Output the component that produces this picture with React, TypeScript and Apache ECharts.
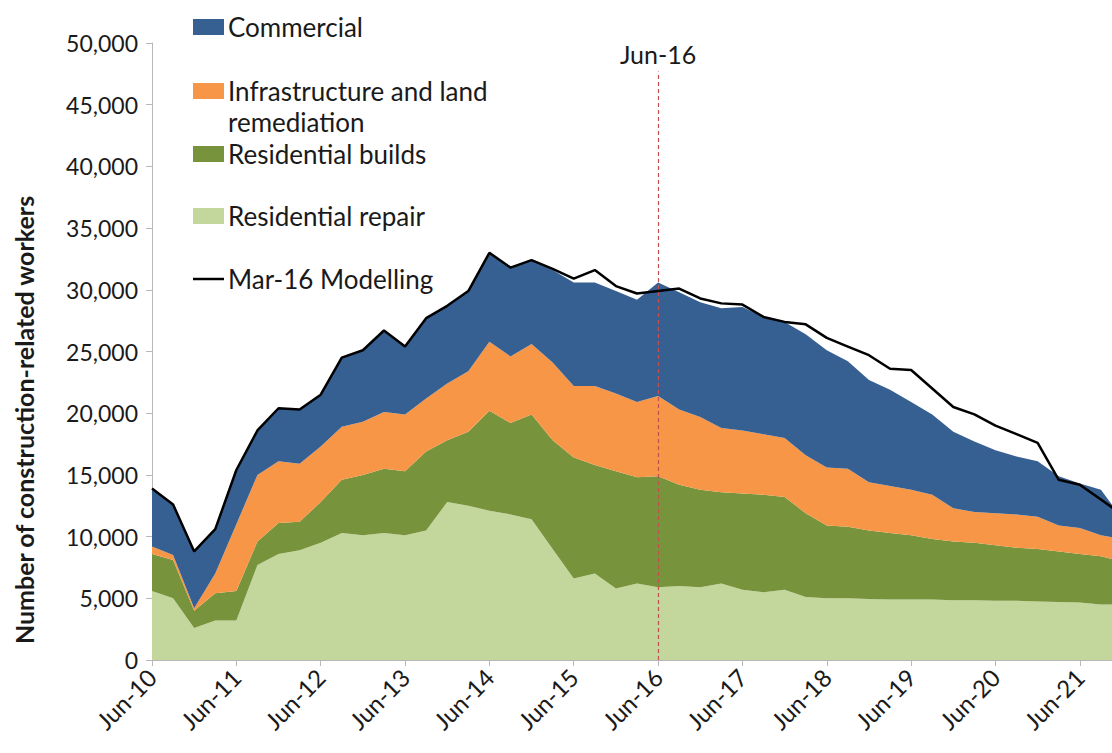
import React, { useEffect, useRef } from "react";
import * as echarts from "echarts";

const quarters: string[] = [
  "Jun-10", "Sep-10", "Dec-10", "Mar-11",
  "Jun-11", "Sep-11", "Dec-11", "Mar-12",
  "Jun-12", "Sep-12", "Dec-12", "Mar-13",
  "Jun-13", "Sep-13", "Dec-13", "Mar-14",
  "Jun-14", "Sep-14", "Dec-14", "Mar-15",
  "Jun-15", "Sep-15", "Dec-15", "Mar-16",
  "Jun-16", "Sep-16", "Dec-16", "Mar-17",
  "Jun-17", "Sep-17", "Dec-17", "Mar-18",
  "Jun-18", "Sep-18", "Dec-18", "Mar-19",
  "Jun-19", "Sep-19", "Dec-19", "Mar-20",
  "Jun-20", "Sep-20", "Dec-20", "Mar-21",
  "Jun-21", "Sep-21", "Dec-21",
];

const residentialRepair: number[] = [
  5600, 5000, 2600, 3200, 3200, 7700, 8600, 8900, 9500, 10300, 10100, 10300,
  10100, 10500, 12800, 12500, 12100, 11800, 11400, 9000, 6600, 7000, 5800, 6200,
  5900, 6000, 5900, 6200, 5700, 5500, 5700, 5100, 5000, 5000, 4950, 4900,
  4900, 4900, 4850, 4850, 4800, 4800, 4750, 4700, 4650, 4500, 4500,
];

const residentialBuilds: number[] = [
  3000, 3100, 1400, 2200, 2400, 1900, 2500, 2300, 3300, 4300, 4900, 5200,
  5200, 6400, 5000, 6000, 8100, 7400, 8500, 8800, 9800, 8800, 9500, 8600,
  9000, 8200, 7900, 7400, 7800, 7900, 7500, 6800, 5900, 5800, 5550, 5400,
  5200, 4900, 4750, 4650, 4500, 4300, 4250, 4100, 3950, 3900, 3500,
];

const infrastructure: number[] = [
  600, 400, 200, 1600, 5400, 5400, 5000, 4700, 4500, 4300, 4300, 4600,
  4600, 4300, 4600, 4900, 5600, 5400, 5700, 6300, 5800, 6400, 6300, 6100,
  6500, 6100, 5900, 5200, 5100, 4900, 4800, 4700, 4700, 4700, 3900, 3800,
  3700, 3600, 2700, 2500, 2600, 2700, 2600, 2100, 2100, 1700, 1800,
];

const commercial: number[] = [
  4700, 4100, 4600, 3600, 4400, 3600, 4300, 4400, 4200, 5600, 5800, 6600,
  5500, 6500, 6300, 6500, 7200, 7200, 6800, 7500, 8400, 8400, 8300, 8300,
  9200, 9500, 9300, 9700, 10000, 9500, 9400, 9800, 9500, 8700, 8300, 7800,
  7100, 6500, 6200, 5700, 5100, 4700, 4500, 4000, 3600, 3700, 1700,
];

const mar16Modelling: number[] = [
  13900, 12600, 8800, 10600, 15400, 18600, 20400, 20300, 21500, 24500, 25100, 26700,
  25400, 27700, 28700, 29900, 33000, 31800, 32400, 31700, 30900, 31600, 30300, 29700,
  29900, 30100, 29300, 28900, 28800, 27800, 27400, 27200, 26100, 25400, 24700, 23600,
  23500, 22000, 20500, 19900, 19000, 18300, 17600, 14600, 14200, 13000, 11800,
];

const yTicks: number[] = [0, 5000, 10000, 15000, 20000, 25000, 30000, 35000, 40000, 45000, 50000];

const FONT = "Lato, 'Open Sans', sans-serif";
const COLORS = {
  commercial: "#376092",
  infra: "#f79646",
  builds: "#77933c",
  repair: "#c3d69b",
  line: "#000000",
  marker: "#c0504d",
};

function fmt(v: number): string {
  return v.toLocaleString("en-US");
}

export default function App() {
  const ref = useRef<HTMLDivElement>(null);

  useEffect(() => {
    if (!ref.current) return;
    const chart = echarts.init(ref.current, undefined, { renderer: "svg" });

    const areaSeries = (name: string, data: number[], color: string) => ({
      name,
      type: "line",
      stack: "total",
      data,
      symbol: "none",
      lineStyle: { width: 0 },
      areaStyle: { color, opacity: 1 },
      itemStyle: { color },
      z: 2,
    });

    const legendItems = [
      { y: 27, text: "Commercial", color: COLORS.commercial },
      { y: 91, text: "Infrastructure and land", color: COLORS.infra },
      { y: 154, text: "Residential builds", color: COLORS.builds },
      { y: 216, text: "Residential repair", color: COLORS.repair },
    ];

    const legendFont = `26px ${FONT}`;
    const graphic: any[] = [];
    legendItems.forEach((it) => {
      graphic.push({
        type: "rect",
        shape: { x: 193, y: it.y - 8, width: 31, height: 16 },
        style: { fill: it.color },
        z: 100,
      });
      graphic.push({
        type: "text",
        x: 228,
        y: it.y,
        style: {
          text: it.text,
          font: legendFont,
          fill: "#1a1a1a",
          textVerticalAlign: "middle",
          textAlign: "left",
        },
        z: 100,
      });
    });
    graphic.push({
      type: "text",
      x: 228,
      y: 122,
      style: {
        text: "remediation",
        font: legendFont,
        fill: "#1a1a1a",
        textVerticalAlign: "middle",
        textAlign: "left",
      },
      z: 100,
    });
    graphic.push({
      type: "line",
      shape: { x1: 193, y1: 279, x2: 224, y2: 279 },
      style: { stroke: COLORS.line, lineWidth: 2.5 },
      z: 100,
    });
    graphic.push({
      type: "text",
      x: 228,
      y: 279,
      style: {
        text: "Mar-16 Modelling",
        font: legendFont,
        fill: "#1a1a1a",
        textVerticalAlign: "middle",
        textAlign: "left",
      },
      z: 100,
    });
    graphic.push({
      type: "text",
      x: 24,
      y: 420,
      rotation: Math.PI / 2,
      style: {
        text: "Number of construction-related workers",
        font: `bold 25px ${FONT}`,
        fill: "#1a1a1a",
        textVerticalAlign: "middle",
        textAlign: "center",
      },
      z: 100,
    });

    chart.setOption({
      animation: false,
      backgroundColor: "#ffffff",
      grid: { left: 152, right: 18, top: 43, bottom: 93, containLabel: false },
      xAxis: {
        type: "category",
        data: quarters,
        boundaryGap: false,
        axisLine: { show: true, lineStyle: { color: "#b8b8b8", width: 1 } },
        axisTick: { show: true, interval: 3, length: 6, lineStyle: { color: "#b8b8b8" } },
        axisLabel: {
          interval: 3,
          rotate: 45,
          margin: 13,
          fontFamily: FONT,
          fontSize: 24,
          color: "#1a1a1a",
        },
        splitLine: { show: false },
      },
      yAxis: {
        type: "value",
        min: yTicks[0],
        max: yTicks[yTicks.length - 1],
        interval: 5000,
        axisLine: { show: true, lineStyle: { color: "#b8b8b8", width: 1 } },
        axisTick: { show: true, length: 6, lineStyle: { color: "#b8b8b8" } },
        axisLabel: {
          margin: 14,
          fontFamily: FONT,
          fontSize: 23,
          color: "#1a1a1a",
          formatter: (v: number) => fmt(v),
        },
        splitLine: { show: false },
      },
      series: [
        areaSeries("Residential repair", residentialRepair, COLORS.repair),
        areaSeries("Residential builds", residentialBuilds, COLORS.builds),
        areaSeries("Infrastructure and land remediation", infrastructure, COLORS.infra),
        {
          ...areaSeries("Commercial", commercial, COLORS.commercial),
          markLine: {
            silent: true,
            symbol: ["none", "none"],
            lineStyle: { color: COLORS.marker, type: [4, 3], width: 1.2 },
            label: {
              show: true,
              position: "end",
              formatter: "Jun-16",
              fontFamily: FONT,
              fontSize: 25,
              color: "#1a1a1a",
              distance: 5,
            },
            data: [
              [
                { coord: ["Jun-16", 0] },
                { coord: ["Jun-16", 47700] },
              ],
            ],
          },
        },
        {
          name: "Mar-16 Modelling",
          type: "line",
          data: mar16Modelling,
          symbol: "none",
          lineStyle: { color: COLORS.line, width: 2.5 },
          itemStyle: { color: COLORS.line },
          z: 5,
        },
      ],
      graphic,
    });

    return () => chart.dispose();
  }, []);

  return (
    <div
      style={{
        position: "fixed",
        left: 0,
        top: 0,
        width: 1112,
        height: 753,
        overflow: "hidden",
        background: "#ffffff",
      }}
    >
      <div ref={ref} style={{ width: 1140, height: 753 }} />
    </div>
  );
}
